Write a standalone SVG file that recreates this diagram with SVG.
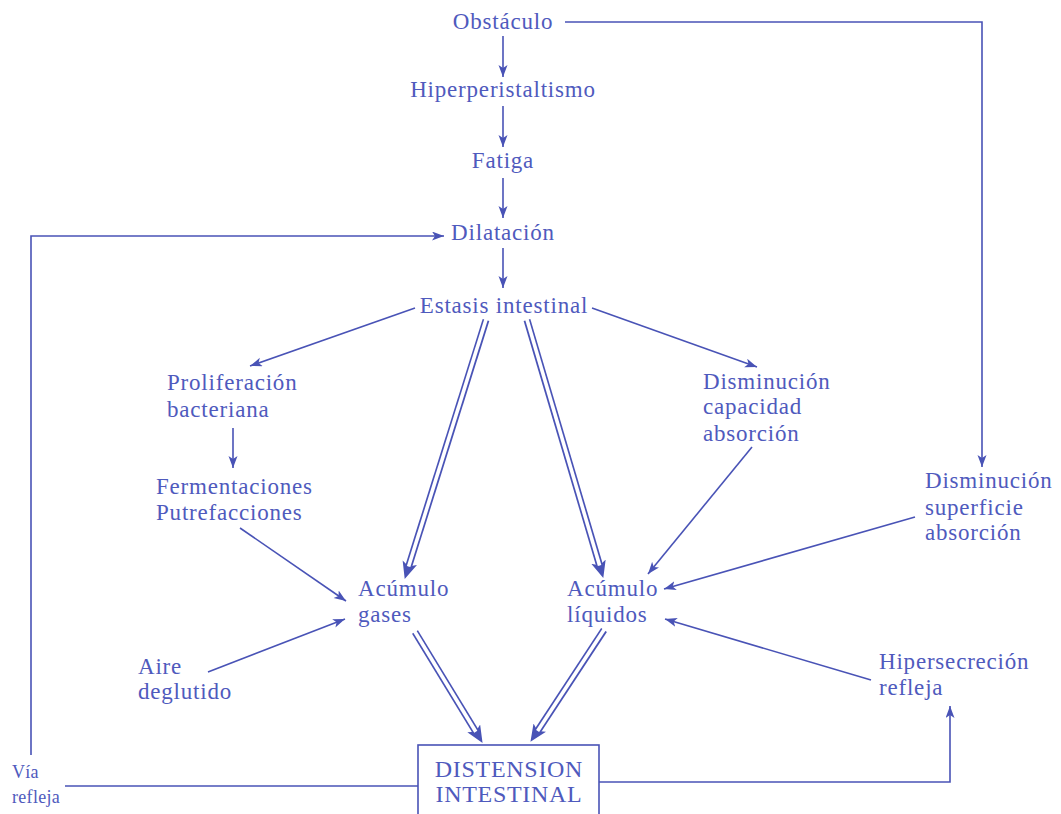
<svg xmlns="http://www.w3.org/2000/svg" width="1061" height="814" viewBox="0 0 1061 814">
<style>
.t{font-family:"Liberation Serif","Times New Roman",serif;font-size:23px;letter-spacing:0.8px;fill:#4f5abd}
.c{text-anchor:middle}
.s{font-size:18px;letter-spacing:0.3px}
.b{font-size:24px;letter-spacing:0.7px}
.l{fill:none;stroke:#4953b6;stroke-width:1.6}
.d{fill:none;stroke:#4953b6;stroke-width:7}
.w{fill:none;stroke:#ffffff;stroke-width:3.6}
</style>
<defs>
<marker id="a" markerUnits="userSpaceOnUse" markerWidth="13" markerHeight="10" refX="12" refY="4.5" orient="auto">
<path d="M0,0 L12,4.5 L0,9 L3,4.5 z" fill="#4953b6"/>
</marker>
<marker id="a2" markerUnits="userSpaceOnUse" markerWidth="18" markerHeight="16" refX="4" refY="7.5" orient="auto">
<path d="M0,0 L17,7.5 L0,15 L4,7.5 z" fill="#4953b6"/>
</marker>
</defs>
<rect width="1061" height="814" fill="#ffffff"/>
<g id="connectors">
<line class="l" x1="503" y1="36" x2="503" y2="77" marker-end="url(#a)"/>
<line class="l" x1="503" y1="106" x2="503" y2="147" marker-end="url(#a)"/>
<line class="l" x1="503" y1="178" x2="503" y2="218" marker-end="url(#a)"/>
<line class="l" x1="503" y1="248" x2="503" y2="288" marker-end="url(#a)"/>
<path class="l" d="M565,22 H982 V467" marker-end="url(#a)"/>
<path class="l" d="M31,755 V236 H444" marker-end="url(#a)"/>
<line class="l" x1="65" y1="786" x2="418" y2="786"/>
<path class="l" d="M599,782 H950 V706" marker-end="url(#a)"/>
<line class="l" x1="415" y1="308" x2="250" y2="366" marker-end="url(#a)"/>
<line class="l" x1="592" y1="308" x2="757" y2="367" marker-end="url(#a)"/>
<line class="l" x1="233" y1="428" x2="233" y2="468" marker-end="url(#a)"/>
<line class="l" x1="240" y1="528" x2="346" y2="601" marker-end="url(#a)"/>
<line class="l" x1="208" y1="672" x2="345" y2="619" marker-end="url(#a)"/>
<line class="l" x1="752" y1="447" x2="648" y2="574" marker-end="url(#a)"/>
<line class="l" x1="915" y1="517" x2="664" y2="589" marker-end="url(#a)"/>
<line class="l" x1="871" y1="680" x2="665" y2="619" marker-end="url(#a)"/>
<line class="d" x1="486" y1="320" x2="408.6" y2="566.5" marker-end="url(#a2)"/>
<line class="w" x1="486.5" y1="318" x2="408.6" y2="566.5"/>
<line class="d" x1="527" y1="320" x2="599.6" y2="565.5" marker-end="url(#a2)"/>
<line class="w" x1="526.5" y1="318" x2="599.6" y2="565.5"/>
<line class="d" x1="415" y1="632" x2="475.8" y2="731.8" marker-end="url(#a2)"/>
<line class="w" x1="414" y1="630.3" x2="475.8" y2="731.8"/>
<line class="d" x1="604" y1="630" x2="537.6" y2="731" marker-end="url(#a2)"/>
<line class="w" x1="605" y1="628.3" x2="537.6" y2="731"/>
</g>
<g id="obstaculo"><text class="t c" x="503" y="29">Obstáculo</text></g>
<g id="hiperperistaltismo"><text class="t c" x="503" y="97">Hiperperistaltismo</text></g>
<g id="fatiga"><text class="t c" x="503" y="168">Fatiga</text></g>
<g id="dilatacion"><text class="t c" x="503" y="240">Dilatación</text></g>
<g id="estasis"><text class="t c" x="504" y="313">Estasis intestinal</text></g>
<g id="proliferacion"><text class="t" x="167" y="390">Proliferación</text><text class="t" x="167" y="417">bacteriana</text></g>
<g id="fermentaciones"><text class="t" x="156" y="494">Fermentaciones</text><text class="t" x="156" y="520">Putrefacciones</text></g>
<g id="dismin-capacidad"><text class="t" x="703" y="389">Disminución</text><text class="t" x="703" y="414">capacidad</text><text class="t" x="703" y="441">absorción</text></g>
<g id="dismin-superficie"><text class="t" x="925" y="488">Disminución</text><text class="t" x="925" y="515">superficie</text><text class="t" x="925" y="540">absorción</text></g>
<g id="acumulo-gases"><text class="t" x="358" y="596">Acúmulo</text><text class="t" x="358" y="622">gases</text></g>
<g id="acumulo-liquidos"><text class="t" x="567" y="596">Acúmulo</text><text class="t" x="567" y="622">líquidos</text></g>
<g id="aire"><text class="t" x="138" y="674">Aire</text><text class="t" x="138" y="699">deglutido</text></g>
<g id="hipersecrecion"><text class="t" x="879" y="669">Hipersecreción</text><text class="t" x="879" y="695">refleja</text></g>
<g id="via-refleja"><text class="t s" x="12" y="778">Vía</text><text class="t s" x="12" y="803">refleja</text></g>
<g id="distension">
<rect x="418" y="745" width="181" height="80" fill="none" stroke="#4953b6" stroke-width="1.6"/>
<text class="t c b" x="509" y="777">DISTENSION</text>
<text class="t c b" x="509" y="802">INTESTINAL</text>
</g>
</svg>
